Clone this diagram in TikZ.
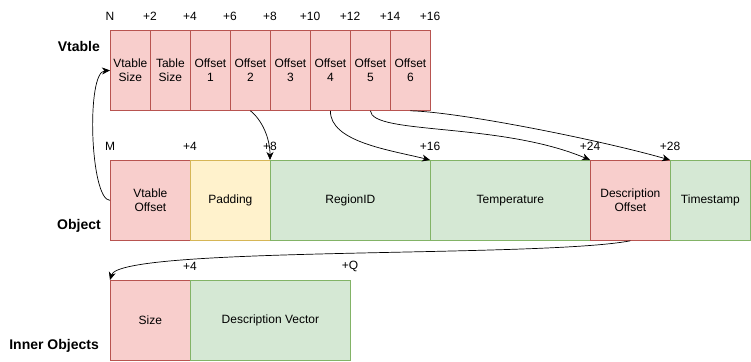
\documentclass[tikz,border=0pt]{standalone}
\usepackage{fontspec}
\setmainfont{Liberation Sans}
\usetikzlibrary{arrows.meta}
\definecolor{redF}{HTML}{F8CECC}
\definecolor{redD}{HTML}{B85450}
\definecolor{grnF}{HTML}{D5E8D4}
\definecolor{grnD}{HTML}{82B366}
\definecolor{ylwF}{HTML}{FFF2CC}
\definecolor{ylwD}{HTML}{D6B656}
\begin{document}
\begin{tikzpicture}[x=1pt,y=-1pt,
  font=\fontsize{12}{14}\selectfont,
  cell/.style={draw, minimum height=80pt, align=center, inner sep=0pt, anchor=north west, line width=0.8pt},
  redc/.style={cell, fill=redF, draw=redD},
  grnc/.style={cell, fill=grnF, draw=grnD},
  ylwc/.style={cell, fill=ylwF, draw=ylwD},
  wa/.style={minimum width=40pt},
  wb/.style={minimum width=80pt},
  wc/.style={minimum width=160pt},
  offl/.style={inner sep=0pt},
  rowl/.style={font=\fontsize{14}{16}\selectfont\bfseries, anchor=east, inner sep=0pt},
  arr/.style={-{Stealth[length=8pt,width=7pt,inset=2.5pt]}, line width=0.7pt}
]
\useasboundingbox (0,0) rectangle (751,361);
% Vtable row
\node[redc,wa] (v1) at (110,30) {Vtable\\Size};
\node[redc,wa] (v2) at (150,30) {Table\\Size};
\node[redc,wa] (v3) at (190,30) {Offset\\1};
\node[redc,wa] (v4) at (230,30) {Offset\\2};
\node[redc,wa] (v5) at (270,30) {Offset\\3};
\node[redc,wa] (v6) at (310,30) {Offset\\4};
\node[redc,wa] (v7) at (350,30) {Offset\\5};
\node[redc,wa] (v8) at (390,30) {Offset\\6};
% Object row
\node[redc,wb] (o1) at (110,160) {Vtable\\Offset};
\node[ylwc,wb] (o2) at (190,160) {Padding};
\node[grnc,wc] (o3) at (270,160) {RegionID};
\node[grnc,wc] (o4) at (430,160) {Temperature};
\node[redc,wb] (o5) at (590,160) {Description\\Offset};
\node[grnc,wb] (o6) at (670,160) {Timestamp};
% Inner objects row
\node[redc,wb] (i1) at (110,280) {Size};
\node[grnc,wc] (i2) at (190,280) {Description Vector};
% row labels
\node[rowl] (rl1) at (100,46) {Vtable};
\node[rowl] (rl2) at (101,226) {Object};
\node[rowl] (rl3) at (99,346) {Inner Objects};
% offset labels
\node[offl] (n0) at (110,16) {N};
\node[offl] (n1) at (150,16) {+2};
\node[offl] (n2) at (190,16) {+4};
\node[offl] (n3) at (230,16) {+6};
\node[offl] (n4) at (270,16) {+8};
\node[offl] (n5) at (310,16) {+10};
\node[offl] (n6) at (350,16) {+12};
\node[offl] (n7) at (390,16) {+14};
\node[offl] (n8) at (430,16) {+16};
\node[offl] (m0) at (110,146) {M};
\node[offl] (m1) at (190,146) {+4};
\node[offl] (m2) at (270,146) {+8};
\node[offl] (m3) at (430,146) {+16};
\node[offl] (m4) at (590,146) {+24};
\node[offl] (m5) at (670,146) {+28};
\node[offl] (q1) at (190,266) {+4};
\node[offl] (q2) at (350,266) {+Q};
% connectors
\draw[arr] (o1.west) .. controls (90,200) and (86,72) .. (v1.west);
\draw[arr] (v4.south) .. controls (262,120) and (270,138) .. (o3.north west);
\draw[arr] (v6.south) .. controls (330,142) and (390,150) .. (o4.north west);
\draw[arr] (v7.south) .. controls (372,135) and (500,122) .. (o5.north west);
\draw[arr] (v8.south) .. controls (460,112) and (600,140) .. (o6.north west);
\draw[arr] (o5.south) .. controls (540,258) and (120,246) .. (i1.north west);
\end{tikzpicture}
\end{document}
